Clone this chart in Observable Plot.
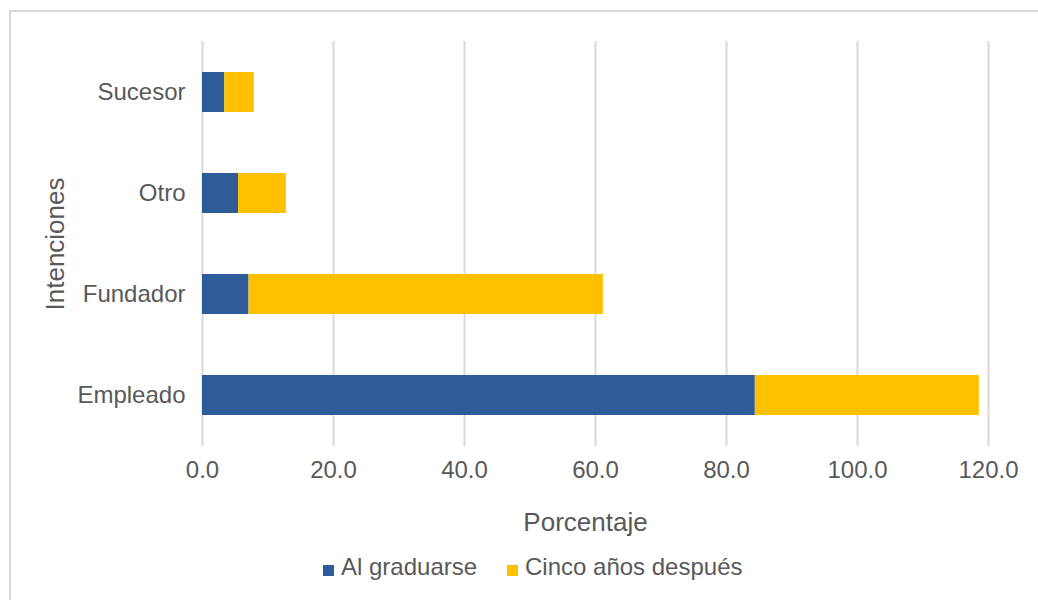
<!DOCTYPE html>
<html>
<head>
<meta charset="utf-8">
<script src="https://cdn.jsdelivr.net/npm/d3@7"></script>
<script src="https://cdn.jsdelivr.net/npm/@observablehq/plot@0.6"></script>
<style>
  html, body { margin: 0; padding: 0; background: #fff; overflow: hidden; width: 1038px; height: 600px; }
  body { position: relative; font-family: "Liberation Sans", Arial, Helvetica, sans-serif; color: #595959; }
  #frame { position: absolute; left: 9px; top: 10px; width: 1200px; height: 800px; border: 2px solid #d9d9d9; box-sizing: border-box; }
  #chart { position: absolute; left: 0; top: 0; }
  .item { position: absolute; top: 555px; font-size: 24px; line-height: 23px; white-space: nowrap; }
  .sw { display: inline-block; width: 11px; height: 11px; margin-right: 7px; vertical-align: -1px; }
</style>
</head>
<body>
<div id="frame"></div>
<div id="chart"></div>
<div id="legend"></div>
<script>
const categories = ["Sucesor", "Otro", "Fundador", "Empleado"];
const series = ["Al graduarse", "Cinco años después"];
const alGraduarse = [3.4, 5.5, 7.1, 84.4];
const cincoAnos = [4.5, 7.3, 54.1, 34.2];
const xTicks = [0, 20, 40, 60, 80, 100, 120];
const colors = ["#2E5C99", "#FFC000"];
const xLabel = "Porcentaje";
const yLabel = "Intenciones";

const data = categories.flatMap((c, i) => [
  {cat: c, series: series[0], value: alGraduarse[i]},
  {cat: c, series: series[1], value: cincoAnos[i]}
]);

const chart = Plot.plot({
  width: 1038,
  height: 545,
  marginLeft: 202,
  marginRight: 50,
  marginTop: 41,
  marginBottom: 99,
  style: {fontFamily: '"Liberation Sans", Arial, Helvetica, sans-serif', fontSize: "24px", color: "#595959", background: "transparent"},
  x: {domain: [0, 120]},
  y: {domain: categories, paddingInner: 0.6, paddingOuter: 0.3},
  color: {domain: series, range: colors},
  marks: [
    Plot.gridX(xTicks, {stroke: "#d9d9d9", strokeOpacity: 1, strokeWidth: 2}),
    Plot.barX(data, Plot.stackX({x: "value", y: "cat", fill: "series"})),
    Plot.axisX({ticks: xTicks, tickSize: 0, tickPadding: 14, tickFormat: d => d.toFixed(1), label: null, fontSize: 24}),
    Plot.axisY({tickSize: 0, tickPadding: 17, label: null, fontSize: 24}),
    Plot.axisY({ticks: [], tickSize: 0, label: yLabel, labelAnchor: "center", labelArrow: "none", labelOffset: 157, fontSize: 26}),
    Plot.text([xLabel], {text: d => d, frameAnchor: "bottom", lineAnchor: "middle", dy: 76, dx: -10, fontSize: 26})
  ]
});
document.getElementById("chart").appendChild(chart);

const legend = document.getElementById("legend");
const lefts = [323, 507];
series.forEach((s, i) => {
  const item = document.createElement("div");
  item.className = "item";
  item.style.left = lefts[i] + "px";
  const sw = document.createElement("span");
  sw.className = "sw";
  sw.style.background = colors[i];
  item.appendChild(sw);
  item.appendChild(document.createTextNode(s));
  legend.appendChild(item);
});
</script>
</body>
</html>
